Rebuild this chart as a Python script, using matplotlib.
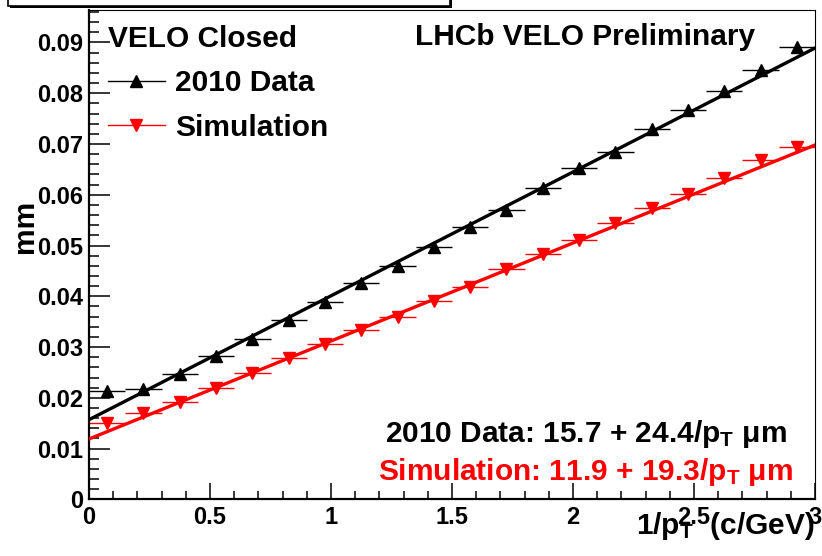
import numpy as np
import matplotlib.pyplot as plt
from matplotlib.lines import Line2D
from matplotlib.patches import Rectangle
from matplotlib.ticker import MultipleLocator, FuncFormatter

plt.rcParams['font.family'] = ['Liberation Sans', 'DejaVu Sans']
plt.rcParams['font.weight'] = 'bold'
plt.rcParams['axes.labelweight'] = 'bold'
plt.rcParams['mathtext.fontset'] = 'custom'
plt.rcParams['mathtext.rm'] = 'Liberation Sans:bold'
plt.rcParams['mathtext.it'] = 'Liberation Sans:bold'
plt.rcParams['mathtext.bf'] = 'Liberation Sans:bold'

# 20 bins in 1/pT (c/GeV), resolution in mm
bin_centres = [0.075, 0.225, 0.375, 0.525, 0.675, 0.825, 0.975, 1.125, 1.275, 1.425,
               1.575, 1.725, 1.875, 2.025, 2.175, 2.325, 2.475, 2.625, 2.775, 2.925]
bin_half_width = 0.075
data_res = [0.0213, 0.0217, 0.0247, 0.0283, 0.0315, 0.0353, 0.0389, 0.0426, 0.0460, 0.0498,
            0.0536, 0.0570, 0.0613, 0.0652, 0.0685, 0.0729, 0.0767, 0.0805, 0.0845, 0.0892]
sim_res = [0.0150, 0.0170, 0.0191, 0.0220, 0.0248, 0.0278, 0.0307, 0.0334, 0.0360, 0.0390,
           0.0418, 0.0454, 0.0483, 0.0511, 0.0545, 0.0574, 0.0602, 0.0633, 0.0669, 0.0695]

# fit results: constant (um) and slope (um GeV/c)
data_fit = (15.7, 24.4)
sim_fit = (11.9, 19.3)

W, H = 822, 556
FS = 21.5
fig = plt.figure(figsize=(W / 100, H / 100), dpi=100)
ax = fig.add_axes([89 / W, 1 - 499.4 / H, 726 / W, 489.4 / H])

# error bars + markers
ax.errorbar(bin_centres, data_res, xerr=bin_half_width, fmt='none', ecolor='black', elinewidth=1.0)
ax.errorbar(bin_centres, sim_res, xerr=bin_half_width, fmt='none', ecolor='red', elinewidth=1.0)

# fit lines
fit_x = np.array([0.0, 3.0])
ax.plot(fit_x, (data_fit[0] + data_fit[1] * fit_x) / 1000, color='black', lw=2.4, zorder=3)
ax.plot(fit_x, (sim_fit[0] + sim_fit[1] * fit_x) / 1000, color='red', lw=2.4, zorder=3)

ax.plot(bin_centres, data_res, ls='none', marker='^', ms=8, color='black', zorder=4)
ax.plot(bin_centres, sim_res, ls='none', marker='v', ms=8, color='red', zorder=4)

ax.set_xlim(0, 3)
ax.set_ylim(0, 0.0964)

# ROOT style axes
ax.xaxis.set_major_locator(MultipleLocator(0.5))
ax.xaxis.set_minor_locator(MultipleLocator(0.1))
ax.yaxis.set_major_locator(MultipleLocator(0.01))
ax.yaxis.set_minor_locator(MultipleLocator(0.002))
ax.xaxis.set_major_formatter(FuncFormatter(lambda v, p: f'{v:g}'))
ax.yaxis.set_major_formatter(FuncFormatter(lambda v, p: f'{round(v, 3):g}'))
ax.tick_params(which='both', direction='in', top=False, right=False, width=1.1, labelsize=17)
ax.tick_params(axis='y', which='major', length=15, pad=4)
ax.tick_params(axis='y', which='minor', length=7.5)
ax.tick_params(axis='x', which='major', length=11.5, pad=5)
ax.tick_params(axis='x', which='minor', length=6)
for s in ['left', 'bottom']:
    ax.spines[s].set_linewidth(1.6)
for s in ['top', 'right']:
    ax.spines[s].set_linewidth(0.8)

ax.set_xlabel('1/p$_{\\mathrm{T}}$  (c/GeV)', fontsize=FS, ha='right', va='baseline')
ax.xaxis.set_label_coords(1.0, (499.4 - 534) / 489.4)
ax.set_ylabel('mm', fontsize=FS, va='center')
ax.yaxis.set_label_coords((25 - 89) / 726, (499.4 - 226) / 489.4)

# legend
handles = [Line2D([], [], color='black', marker='^', lw=1, ms=8),
           Line2D([], [], color='red', marker='v', lw=1, ms=8)]
ax.legend(handles, ['2010 Data', 'Simulation'], title='VELO Closed', loc='upper left',
          bbox_to_anchor=(108 / W, 1 - 25 / H), bbox_transform=fig.transFigure,
          frameon=False, fontsize=FS, title_fontsize=FS, handlelength=1.9,
          handletextpad=0.35, labelspacing=0.55, borderpad=0, borderaxespad=0,
          alignment='left')

fig.text(415 / W, 1 - 45 / H, 'LHCb VELO Preliminary', fontsize=FS, va='baseline')
fig.text(787 / W, 1 - 442 / H,
         f'2010 Data: {data_fit[0]} + {data_fit[1]}/p$_{{\\mathrm{{T}}}}$ μm',
         fontsize=FS, ha='right', va='baseline')
fig.text(793 / W, 1 - 480 / H,
         f'Simulation: {sim_fit[0]} + {sim_fit[1]}/p$_{{\\mathrm{{T}}}}$ μm',
         fontsize=FS, ha='right', va='baseline', color='red')

# cut-off title box at the top
fig.patches.append(Rectangle((10 / W, 1 - 8 / H), 442 / W, 0.2, transform=fig.transFigure,
                             facecolor='black', edgecolor='black', lw=0))
fig.patches.append(Rectangle((8 / W, 1 - 6 / H), 442 / W, 0.2, transform=fig.transFigure,
                             facecolor='white', edgecolor='black', lw=1.2))

fig.savefig('out.png', dpi=100)
